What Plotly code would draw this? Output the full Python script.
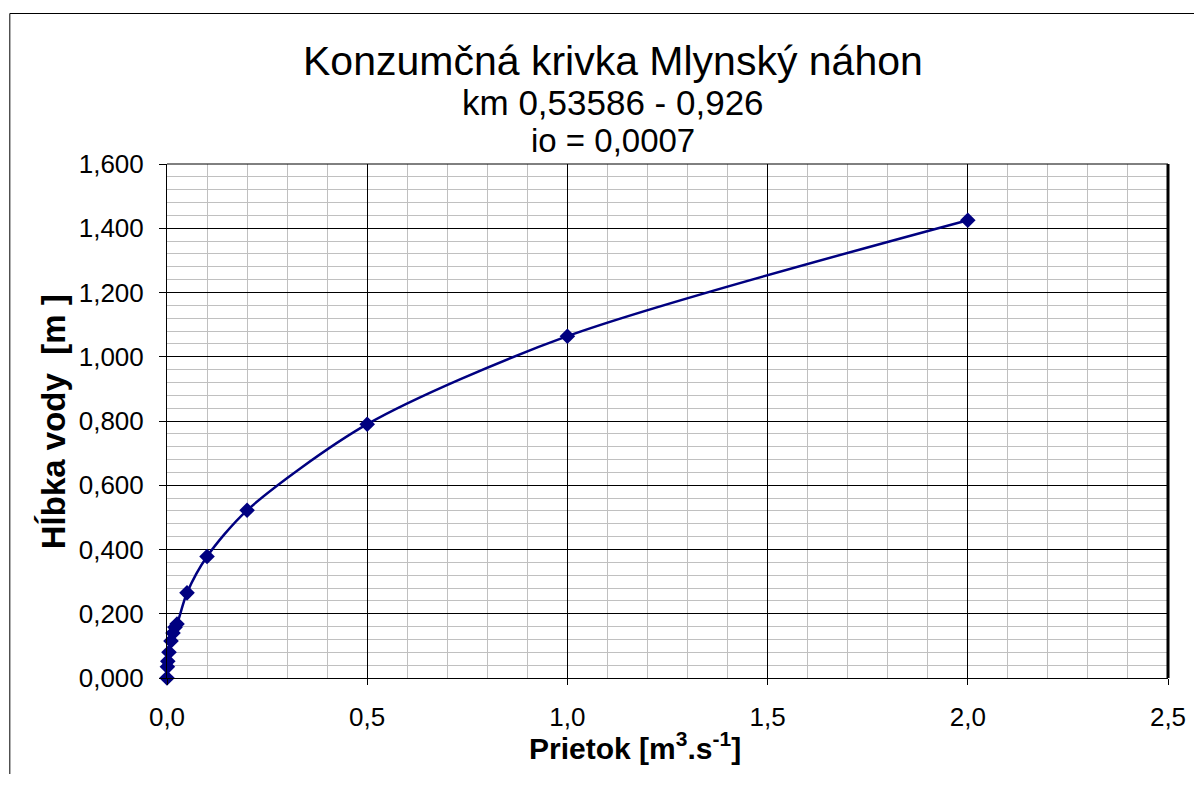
import plotly.graph_objects as go

# data
prietok = [0.0, 0.001, 0.002, 0.005, 0.01, 0.015, 0.02, 0.025, 0.05, 0.1, 0.2, 0.5, 1.0, 2.0]
hlbka = [0.0, 0.035, 0.052, 0.080, 0.115, 0.140, 0.158, 0.168, 0.265, 0.378, 0.522, 0.790, 1.064, 1.425]

title_lines = ["Konzumčná krivka Mlynský náhon", "km 0,53586 - 0,926", "io = 0,0007"]
x_title = "Prietok [m<sup>3</sup>.s<sup>-1</sup>]"
y_title = "Hĺbka vody\u00a0\u00a0[m\u00a0]"

# page body has an 8px margin; work in window pixels and convert
OFF = 8
W, H = 1190, 766
L, R, T, B = 167, 1170, 164, 678  # window pixel positions of the plot area
pw, ph = R - L, B - T

def px(x):
    return (x - L) / pw

def py(y):
    return (B - y) / ph

FONT = "Liberation Sans, Arial, sans-serif"
NAVY = "#000080"

fig = go.Figure()
fig.add_trace(go.Scatter(
    x=prietok, y=hlbka, mode="lines+markers",
    line=dict(color=NAVY, width=2.5, shape="spline", smoothing=0.8),
    marker=dict(symbol="diamond", size=12, color=NAVY),
    cliponaxis=False, showlegend=False,
))

fig.update_layout(
    width=W, height=H,
    margin=dict(l=L - OFF, r=W - (R - OFF), t=T - OFF, b=H - (B - OFF), pad=0),
    paper_bgcolor="white", plot_bgcolor="white",
    separators=", ",
    font=dict(family=FONT, color="black"),
    showlegend=False,
)

fig.update_xaxes(
    range=[0, 2.5], dtick=0.5, tick0=0, tickformat=".1f",
    showgrid=True, gridcolor="black", gridwidth=1,
    minor=dict(dtick=0.1, tick0=0, showgrid=True, gridcolor="#c0c0c0", gridwidth=1),
    showline=True, linecolor="black", linewidth=1,
    ticks="outside", ticklen=6, tickcolor="black", tickwidth=1,
    tickfont=dict(size=26, family=FONT, color="black"),
    ticklabelstandoff=10,
    zeroline=False, fixedrange=True,
)
fig.update_yaxes(
    range=[0, 1.6], dtick=0.2, tick0=0, tickformat=".3f",
    showgrid=True, gridcolor="black", gridwidth=1,
    minor=dict(dtick=0.04, tick0=0, showgrid=True, gridcolor="#c0c0c0", gridwidth=1),
    showline=True, linecolor="black", linewidth=1,
    ticks="outside", ticklen=7, tickcolor="black", tickwidth=1,
    tickfont=dict(size=26, family=FONT, color="black"),
    ticklabelstandoff=10,
    zeroline=False, fixedrange=True,
)

# borders
fig.add_shape(type="line", xref="paper", yref="paper", x0=1, x1=1, y0=0, y1=1,
              line=dict(color="black", width=3))
fig.add_shape(type="line", xref="paper", yref="paper", x0=0, x1=1, y0=1, y1=1,
              line=dict(color="black", width=1))
# outer chart frame (left & top visible)
fig.add_shape(type="line", xref="paper", yref="paper", x0=px(9.5), x1=px(9.5), y0=py(780), y1=py(13.5),
              line=dict(color="black", width=1))
fig.add_shape(type="line", xref="paper", yref="paper", x0=px(9.5), x1=px(1200), y0=py(13.5), y1=py(13.5),
              line=dict(color="black", width=1))

cx = px(614)
fig.add_annotation(text=title_lines[0], xref="paper", yref="paper", x=cx, y=py(61),
                   xanchor="center", yanchor="middle", showarrow=False,
                   font=dict(size=41, family=FONT, color="black"))
fig.add_annotation(text=title_lines[1], xref="paper", yref="paper", x=cx, y=py(103),
                   xanchor="center", yanchor="middle", showarrow=False,
                   font=dict(size=35, family=FONT, color="black"))
fig.add_annotation(text=title_lines[2], xref="paper", yref="paper", x=cx, y=py(141),
                   xanchor="center", yanchor="middle", showarrow=False,
                   font=dict(size=33, family=FONT, color="black"))
fig.add_annotation(text="<b>" + x_title + "</b>", xref="paper", yref="paper", x=px(636), y=py(746),
                   xanchor="center", yanchor="middle", showarrow=False,
                   font=dict(size=30, family=FONT, color="black"))
fig.add_annotation(text="<b>" + y_title + "</b>", xref="paper", yref="paper", x=px(53), y=py(422),
                   xanchor="center", yanchor="middle", showarrow=False, textangle=-90,
                   font=dict(size=33, family=FONT, color="black"))

fig.write_html("out.html")
